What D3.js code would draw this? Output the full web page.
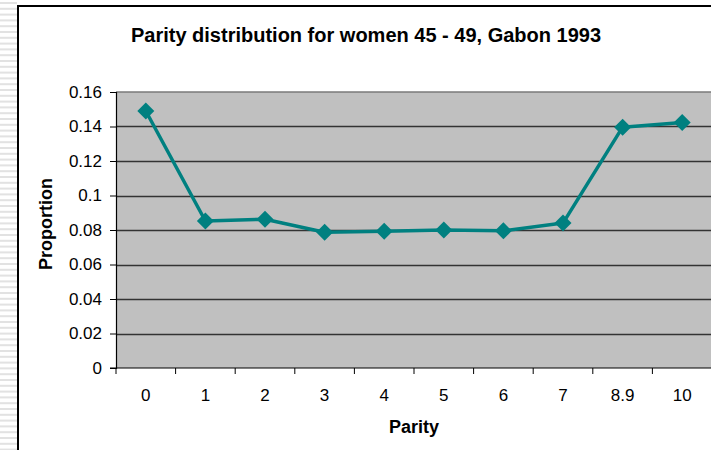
<!DOCTYPE html>
<html>
<head>
<meta charset="utf-8">
<script src="https://cdn.jsdelivr.net/npm/d3@7"></script>
<style>
  html, body { margin: 0; padding: 0; background: #fff; }
  svg { display: block; font-family: "Liberation Sans", Arial, sans-serif; }
</style>
</head>
<body>
<svg id="chart" width="711" height="450"></svg>
<script>
// Parity categories and the share of women 45-49 at each parity
const categories = ["0", "1", "2", "3", "4", "5", "6", "7", "8.9", "10"];
const proportions = [0.149, 0.0852, 0.0862, 0.0787, 0.0793, 0.0800, 0.0795, 0.0840, 0.1396, 0.1423];
const yTicks = [0, 0.02, 0.04, 0.06, 0.08, 0.1, 0.12, 0.14, 0.16];

const svg = d3.select("#chart");
const W = 711, H = 450;

// striped strip at the left edge
const stripe = svg.append("g");
for (let y = 2; y < H; y += 5.8) {
  stripe.append("rect").attr("x", 0).attr("y", y).attr("width", 17).attr("height", 2).attr("fill", "#e2e2e2");
}

// chart frame (white area with black edge on left/top)
svg.append("rect").attr("x", 18).attr("y", 6).attr("width", W).attr("height", H).attr("fill", "#fff");
svg.append("line").attr("x1", 18).attr("x2", 18).attr("y1", 5).attr("y2", H).attr("stroke", "#000").attr("stroke-width", 2);
svg.append("line").attr("x1", 17).attr("x2", W).attr("y1", 6).attr("y2", 6).attr("stroke", "#000").attr("stroke-width", 2);

const plot = { left: 116, right: 712, top: 92, bottom: 368 };

const x = d3.scaleBand().domain(categories).range([plot.left, plot.right]);
const y = d3.scaleLinear().domain([0, 0.16]).range([plot.bottom, plot.top]);

// plot background
svg.append("rect")
  .attr("x", plot.left).attr("y", plot.top)
  .attr("width", plot.right - plot.left).attr("height", plot.bottom - plot.top)
  .attr("fill", "#c0c0c0");

// horizontal gridlines
svg.append("g").selectAll("line").data(yTicks.filter(d => d > 0 && d < 0.16)).join("line")
  .attr("x1", plot.left).attr("x2", plot.right)
  .attr("y1", d => Math.round(y(d)) + 0.5).attr("y2", d => Math.round(y(d)) + 0.5)
  .attr("stroke", "#333").attr("stroke-width", 1.3);
svg.append("line")
  .attr("x1", plot.left).attr("x2", plot.right)
  .attr("y1", plot.top).attr("y2", plot.top)
  .attr("stroke", "#7a7a7a").attr("stroke-width", 1.5);

// y axis
const yAxis = d3.axisLeft(y).tickValues(yTicks).tickSize(6).tickPadding(8)
  .tickFormat(d => d === 0 ? "0" : String(+d.toFixed(2)));
const gy = svg.append("g").attr("transform", `translate(${plot.left},0)`).call(yAxis);
gy.select(".domain").attr("stroke", "#000").attr("stroke-width", 1.2);
gy.selectAll(".tick line").attr("stroke", "#000");
gy.selectAll(".tick text").attr("font-size", 17).attr("fill", "#000")
  .attr("font-family", "Liberation Sans, Arial, sans-serif");

// x axis with ticks at category boundaries
const gx = svg.append("g").attr("transform", `translate(0,${plot.bottom})`);
gx.append("line").attr("x1", plot.left - 6).attr("x2", plot.right)
  .attr("y1", 0).attr("y2", 0).attr("stroke", "#000").attr("stroke-width", 1.2);
gx.selectAll("line.tk").data(categories).join("line").attr("class", "tk")
  .attr("x1", d => x(d)).attr("x2", d => x(d)).attr("y1", 0).attr("y2", 6)
  .attr("stroke", "#000");
gx.selectAll("text").data(categories).join("text")
  .attr("x", d => x(d) + x.bandwidth() / 2).attr("y", 33)
  .attr("text-anchor", "middle").attr("font-size", 17).attr("fill", "#000")
  .text(d => d);

// series line and diamond markers
const cx = (d, i) => x(categories[i]) + x.bandwidth() / 2;
const line = d3.line().x((d, i) => cx(d, i)).y(d => y(d));
svg.append("path").datum(proportions)
  .attr("d", line).attr("fill", "none")
  .attr("stroke", "#008080").attr("stroke-width", 3.5).attr("stroke-linejoin", "round");
const r = 8.5;
svg.append("g").selectAll("path").data(proportions).join("path")
  .attr("d", (d, i) => {
    const px = cx(d, i), py = y(d);
    return `M${px},${py - r}L${px + r},${py}L${px},${py + r}L${px - r},${py}Z`;
  })
  .attr("fill", "#008080");

// titles
svg.append("text").attr("x", 366).attr("y", 42).attr("text-anchor", "middle")
  .attr("font-size", 20).attr("font-weight", "bold").text("Parity distribution for women 45 - 49, Gabon 1993");
svg.append("text").attr("x", 414).attr("y", 433).attr("text-anchor", "middle")
  .attr("font-size", 18).attr("font-weight", "bold").text("Parity");
svg.append("text").attr("transform", "translate(52,224) rotate(-90)").attr("text-anchor", "middle")
  .attr("font-size", 18).attr("font-weight", "bold").text("Proportion");
</script>
</body>
</html>
